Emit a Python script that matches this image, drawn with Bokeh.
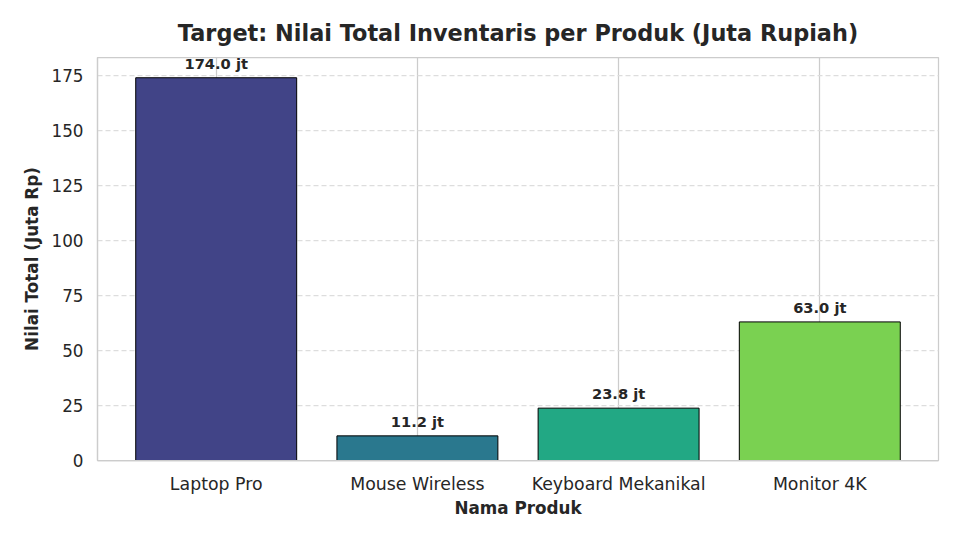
from bokeh.plotting import figure
from bokeh.models import ColumnDataSource, Range1d
from bokeh.core.properties import value
from bokeh.embed import file_html
from bokeh.resources import INLINE

# data
produk = ["Laptop Pro", "Mouse Wireless", "Keyboard Mekanikal", "Monitor 4K"]
nilai_total = [174.0, 11.2, 23.8, 63.0]
warna = ["#414487", "#2a788e", "#22a884", "#7ad151"]
label = [f"{v:.1f} jt" for v in nilai_total]

source = ColumnDataSource(data=dict(produk=produk, nilai=nilai_total, warna=warna, label=label))

p = figure(x_range=produk, y_range=Range1d(0, 183.2),
           width=944, height=524,
           title="Target: Nilai Total Inventaris per Produk (Juta Rupiah)",
           x_axis_label="Nama Produk", y_axis_label="Nilai Total (Juta Rp)",
           output_backend="svg", toolbar_location=None,
           min_border_left=97, min_border_right=6, min_border_top=57, min_border_bottom=64)
p.x_range.range_padding_units = "absolute"
p.x_range.range_padding = 0.09

p.vbar(x="produk", top="nilai", width=0.8, source=source,
       fill_color="warna", line_color="black", line_width=1)

# value labels on top of the bars
p.text(x="produk", y="nilai", text="label", source=source, y_offset=-6,
       text_align="center", text_baseline="bottom",
       text_font=value("DejaVu Sans"), text_font_style="bold",
       text_font_size="11pt", text_color="#262626")

# title
p.title.text_font = "DejaVu Sans"
p.title.text_font_size = "16.8pt"
p.title.text_font_style = "bold"
p.title.text_color = "#262626"
p.title.align = "center"
p.title.standoff = 24

# axes
for ax in [p.xaxis[0], p.yaxis[0]]:
    ax.axis_line_color = "#cccccc"
    ax.axis_line_width = 1.25
    ax.major_tick_line_color = None
    ax.minor_tick_line_color = None
    ax.major_label_text_font = "DejaVu Sans"
    ax.major_label_text_color = "#262626"
    ax.axis_label_text_font = "DejaVu Sans"
    ax.axis_label_text_font_size = "12.6pt"
    ax.axis_label_text_font_style = "bold"
    ax.axis_label_text_color = "#262626"
p.xaxis.major_label_text_font_size = "13pt"
p.yaxis.major_label_text_font_size = "12.6pt"
p.yaxis.ticker = [0, 25, 50, 75, 100, 125, 150, 175]
p.yaxis.major_label_standoff = 8
p.xaxis.major_label_standoff = 7
p.xaxis.axis_label_standoff = 1
p.yaxis.axis_label_standoff = 6

# grid: solid verticals, dashed horizontals
p.xgrid.grid_line_color = "#cccccc"
p.xgrid.grid_line_width = 1.25
p.ygrid.grid_line_color = "#dddddd"
p.ygrid.grid_line_dash = "5 3"
p.ygrid.grid_line_width = 1.25
p.outline_line_color = "#cccccc"
p.outline_line_width = 1.25
p.background_fill_color = "white"

open("out.html", "w").write(file_html(p, INLINE))
